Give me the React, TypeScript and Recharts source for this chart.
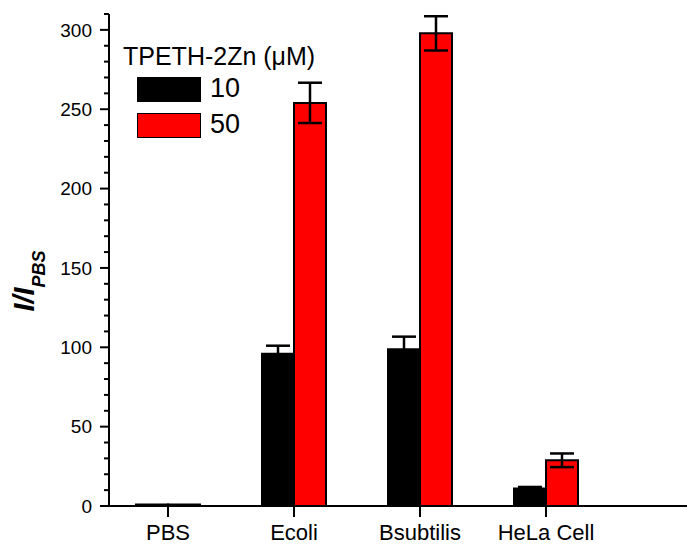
import React from "react"
import { BarChart, Bar, XAxis, YAxis, ErrorBar, Legend } from "recharts"

// groups on the x axis
const categories = ["PBS", "Ecoli", "Bsubtilis", "HeLa Cell"]

// TPETH-2Zn 10 uM
const values10 = [1, 96, 98.7, 11]
const errors10 = [0, 5, 8, 1]

// TPETH-2Zn 50 uM
const values50 = [1, 254, 297.8, 28.8]
const errors50 = [0, 12.7, 10.8, 4.3]

const seriesNames = ["10", "50"]
const seriesColors = ["#000000", "#ff0000"]

const yTicks = [0, 10, 20, 30, 40, 50, 60, 70, 80, 90, 100, 110, 120, 130, 140, 150, 160, 170, 180, 190, 200, 210, 220, 230, 240, 250, 260, 270, 280, 290, 300, 310]

const data = categories.map((name, i) => ({
  name,
  v10: values10[i],
  e10: errors10[i],
  v50: values50[i],
  e50: errors50[i],
}))

const AXIS_X = 109
const FONT = "Arial, 'Liberation Sans', Helvetica, sans-serif"

const YTick = (props: any) => {
  const { y, payload } = props
  const major = payload.value % 50 === 0
  return (
    <g>
      <line x1={AXIS_X - (major ? 9 : 5)} x2={AXIS_X} y1={y} y2={y} stroke="#000" strokeWidth={2} />
      {major && (
        <text x={AXIS_X - 17} y={y} dy="0.35em" textAnchor="end" fontSize={19} fill="#000" fontFamily={FONT}>
          {payload.value}
        </text>
      )}
    </g>
  )
}

const YLabel = () => (
  <text transform="translate(34,281) rotate(-90)" textAnchor="middle" fill="#000" fontFamily={FONT} fontWeight="bold" fontStyle="italic">
    <tspan fontSize={29}>I/I</tspan>
    <tspan fontSize={18} dy={11}>PBS</tspan>
  </text>
)

const LegendBox = () => (
  <div style={{ position: "relative", width: 230, height: 100, fontFamily: FONT, color: "#000" }}>
    <div style={{ position: "absolute", left: 0, top: -1, fontSize: 25, lineHeight: "25px", whiteSpace: "nowrap" }}>
      TPETH-2Zn (μM)
    </div>
    {seriesNames.map((n, i) => (
      <div key={n}>
        <div
          style={{
            position: "absolute",
            left: 14,
            top: 32 + i * 36,
            width: 62,
            height: 23,
            background: seriesColors[i],
            border: "1.5px solid #000",
          }}
        />
        <div style={{ position: "absolute", left: 87, top: 30 + i * 36, fontSize: 27, lineHeight: "27px" }}>{n}</div>
      </div>
    ))}
  </div>
)

export default function App() {
  return (
    <div style={{ position: "absolute", left: 0, top: 0, width: 687, height: 548, background: "#fff", fontFamily: FONT }}>
      <BarChart width={687} height={548} data={data} margin={{ top: 14, right: 0, bottom: 0, left: 0 }} barGap={0} barSize={32}>
        <XAxis
          dataKey="name"
          height={42}
          padding={{ left: -4, right: 78 }}
          tickSize={11}
          tickMargin={7}
          axisLine={{ stroke: "#000", strokeWidth: 2 }}
          tickLine={{ stroke: "#000", strokeWidth: 2 }}
          tick={{ fontSize: 22, fill: "#000", fontFamily: FONT }}
          interval={0}
        />
        <YAxis
          width={AXIS_X}
          domain={[0, 310]}
          ticks={yTicks}
          interval={0}
          tick={<YTick />}
          tickLine={false}
          axisLine={{ stroke: "#000", strokeWidth: 2 }}
          label={<YLabel />}
        />
        <Legend
          layout="horizontal"
          verticalAlign="middle"
          align="center"
          content={() => <LegendBox />}
          wrapperStyle={{ position: "absolute", left: 123, top: 45, width: 230, height: 100 }}
        />
        <Bar dataKey="v10" fill={seriesColors[0]} stroke="#000" strokeWidth={2} isAnimationActive={false}>
          <ErrorBar dataKey="e10" width={12} stroke="#000" strokeWidth={2.5} direction="y" />
        </Bar>
        <Bar dataKey="v50" fill={seriesColors[1]} stroke="#000" strokeWidth={2} isAnimationActive={false}>
          <ErrorBar dataKey="e50" width={12} stroke="#000" strokeWidth={2.5} direction="y" />
        </Bar>
      </BarChart>
    </div>
  )
}
